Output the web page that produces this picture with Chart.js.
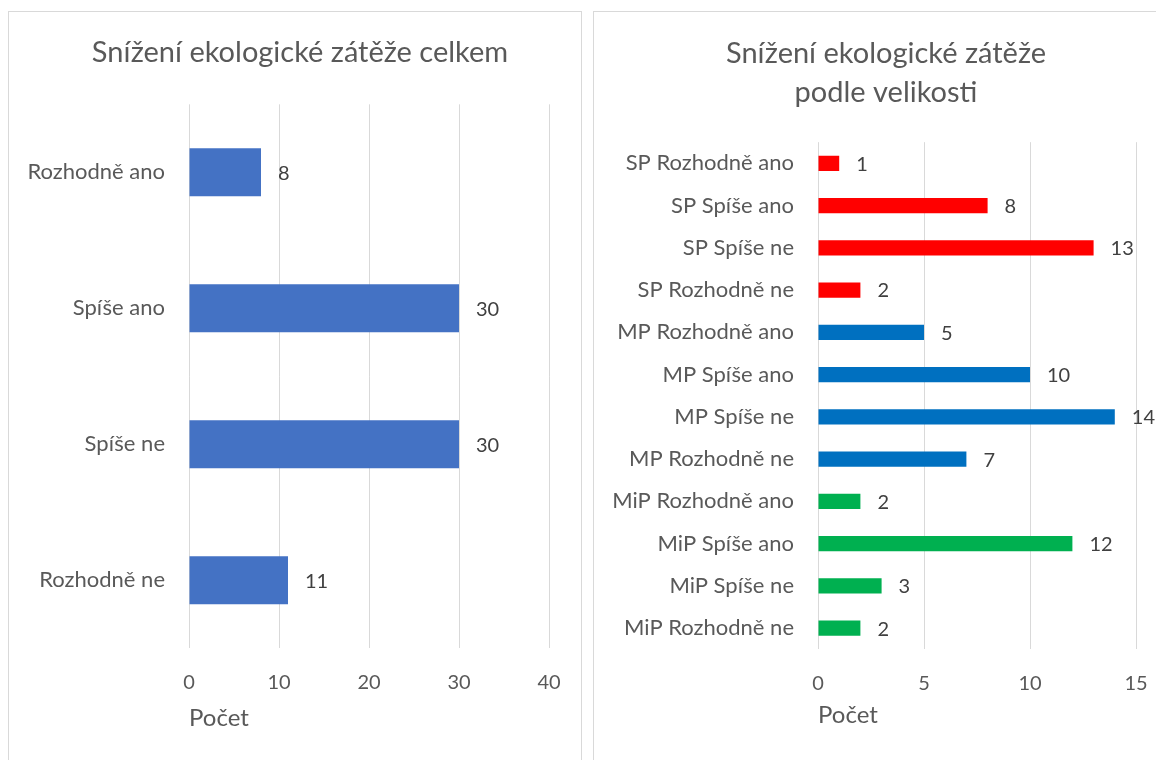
<!DOCTYPE html>
<html>
<head>
<meta charset="utf-8">
<script src="https://cdn.jsdelivr.net/npm/chart.js@4"></script>
<style>
  html, body { margin: 0; padding: 0; background: #ffffff; overflow: hidden; }
  .panel { position: absolute; border: 1px solid #d9d9d9; background: #fff; }
  #p1 { left: 8px; top: 11px; width: 572px; height: 800px; }
  #p2 { left: 593px; top: 11px; width: 600px; height: 800px; }
  .wrap { position: absolute; left: 0; top: 0; }
</style>
</head>
<body>
<div class="panel" id="p1"><div class="wrap" style="width:572px;height:748px"><canvas id="c1"></canvas></div></div>
<div class="panel" id="p2"><div class="wrap" style="width:562px;height:748px"><canvas id="c2"></canvas></div></div>
<script>
// ---- data ----
const leftTitle = "Snížení ekologické zátěže celkem";
const leftCategories = ["Rozhodně ano", "Spíše ano", "Spíše ne", "Rozhodně ne"];
const leftValues = [8, 30, 30, 11];
const leftTicks = [0, 10, 20, 30, 40];

const rightTitle = ["Snížení ekologické zátěže", "podle velikosti"];
const rightCategories = [
  "SP Rozhodně ano", "SP Spíše ano", "SP Spíše ne", "SP Rozhodně ne",
  "MP Rozhodně ano", "MP Spíše ano", "MP Spíše ne", "MP Rozhodně ne",
  "MiP Rozhodně ano", "MiP Spíše ano", "MiP Spíše ne", "MiP Rozhodně ne"
];
const rightValues = [1, 8, 13, 2, 5, 10, 14, 7, 2, 12, 3, 2];
const rightTicks = [0, 5, 10, 15];
const axisTitle = "Počet";

// ---- styling ----
const FONT = "Lato, 'Open Sans', sans-serif";
const TEXT = "#595959";
const LABEL = "#404040";
const GRID = "#d9d9d9";
const CLEAR = "rgba(0,0,0,0)";
const groupColors = { SP: "#FF0000", MP: "#0070C0", MiP: "#00B050" };
const rightColors = rightCategories.map(c => groupColors[c.split(" ")[0]]);

const valueLabels = {
  id: "valueLabels",
  afterDatasetsDraw(chart) {
    const ctx = chart.ctx;
    const meta = chart.getDatasetMeta(0);
    const ds = chart.data.datasets[0];
    ctx.save();
    ctx.font = "20px " + FONT;
    ctx.fillStyle = LABEL;
    ctx.textAlign = "left";
    ctx.textBaseline = "middle";
    meta.data.forEach((bar, i) => {
      ctx.fillText(String(ds.data[i]), bar.x + 17, bar.y + 1);
    });
    ctx.restore();
  }
};

// shifts the chart title horizontally (title is centred over the whole panel in the reference)
const titleShift = {
  id: "titleShift",
  afterLayout(chart, args, opts) {
    const t = chart.titleBlock;
    if (t && opts.dx) { t.left += opts.dx; t.right += opts.dx; }
  }
};

function makeOptions(title, ticks, titlePad, xTitlePadTop, layoutPad, yWidth, dx) {
  return {
    indexAxis: "y",
    responsive: true,
    maintainAspectRatio: false,
    animation: false,
    layout: { padding: layoutPad },
    plugins: {
      legend: { display: false },
      tooltip: { enabled: false },
      titleShift: { dx: dx },
      title: {
        display: true,
        text: title,
        color: TEXT,
        font: { family: FONT, size: 29, weight: "normal", lineHeight: 1.37 },
        padding: titlePad
      }
    },
    scales: {
      x: {
        min: ticks[0],
        max: ticks[ticks.length - 1],
        afterBuildTicks(scale) { scale.ticks = ticks.map(v => ({ value: v })); },
        afterFit(scale) { scale.paddingLeft = 0; scale.paddingRight = 0; },
        grid: { color: GRID, lineWidth: 1, drawTicks: true, tickLength: 22, tickColor: CLEAR },
        border: { display: false },
        ticks: { color: TEXT, font: { family: FONT, size: 20 }, padding: 0, maxRotation: 0 },
        title: {
          display: true, text: axisTitle, align: "start", color: TEXT,
          font: { family: FONT, size: 24 }, padding: { top: xTitlePadTop, bottom: 0 }
        }
      },
      y: {
        afterFit(scale) { scale.width = yWidth; },
        grid: { display: true, drawOnChartArea: false, drawTicks: true, tickLength: 24, tickColor: CLEAR, color: CLEAR },
        border: { display: false },
        ticks: { color: TEXT, font: { family: FONT, size: 22 }, padding: 0 }
      }
    }
  };
}

new Chart(document.getElementById("c1"), {
  type: "bar",
  data: {
    labels: leftCategories,
    datasets: [{ data: leftValues, backgroundColor: "#4472C4", barPercentage: 0.353, categoryPercentage: 1 }]
  },
  options: makeOptions(leftTitle, leftTicks, { top: 21, bottom: 31.6 }, 10, { left: 19, right: 32, top: 0, bottom: 27 }, 161, 11.5),
  plugins: [valueLabels, titleShift]
});

new Chart(document.getElementById("c2"), {
  type: "bar",
  data: {
    labels: rightCategories,
    datasets: [{ data: rightValues, backgroundColor: rightColors, barPercentage: 0.36, categoryPercentage: 1 }]
  },
  options: makeOptions(rightTitle, rightTicks, { top: 21.5, bottom: 29.2 }, 6, { left: 19, right: 20, top: 0, bottom: 30 }, 205, 11.5),
  plugins: [valueLabels, titleShift]
});
</script>
</body>
</html>
